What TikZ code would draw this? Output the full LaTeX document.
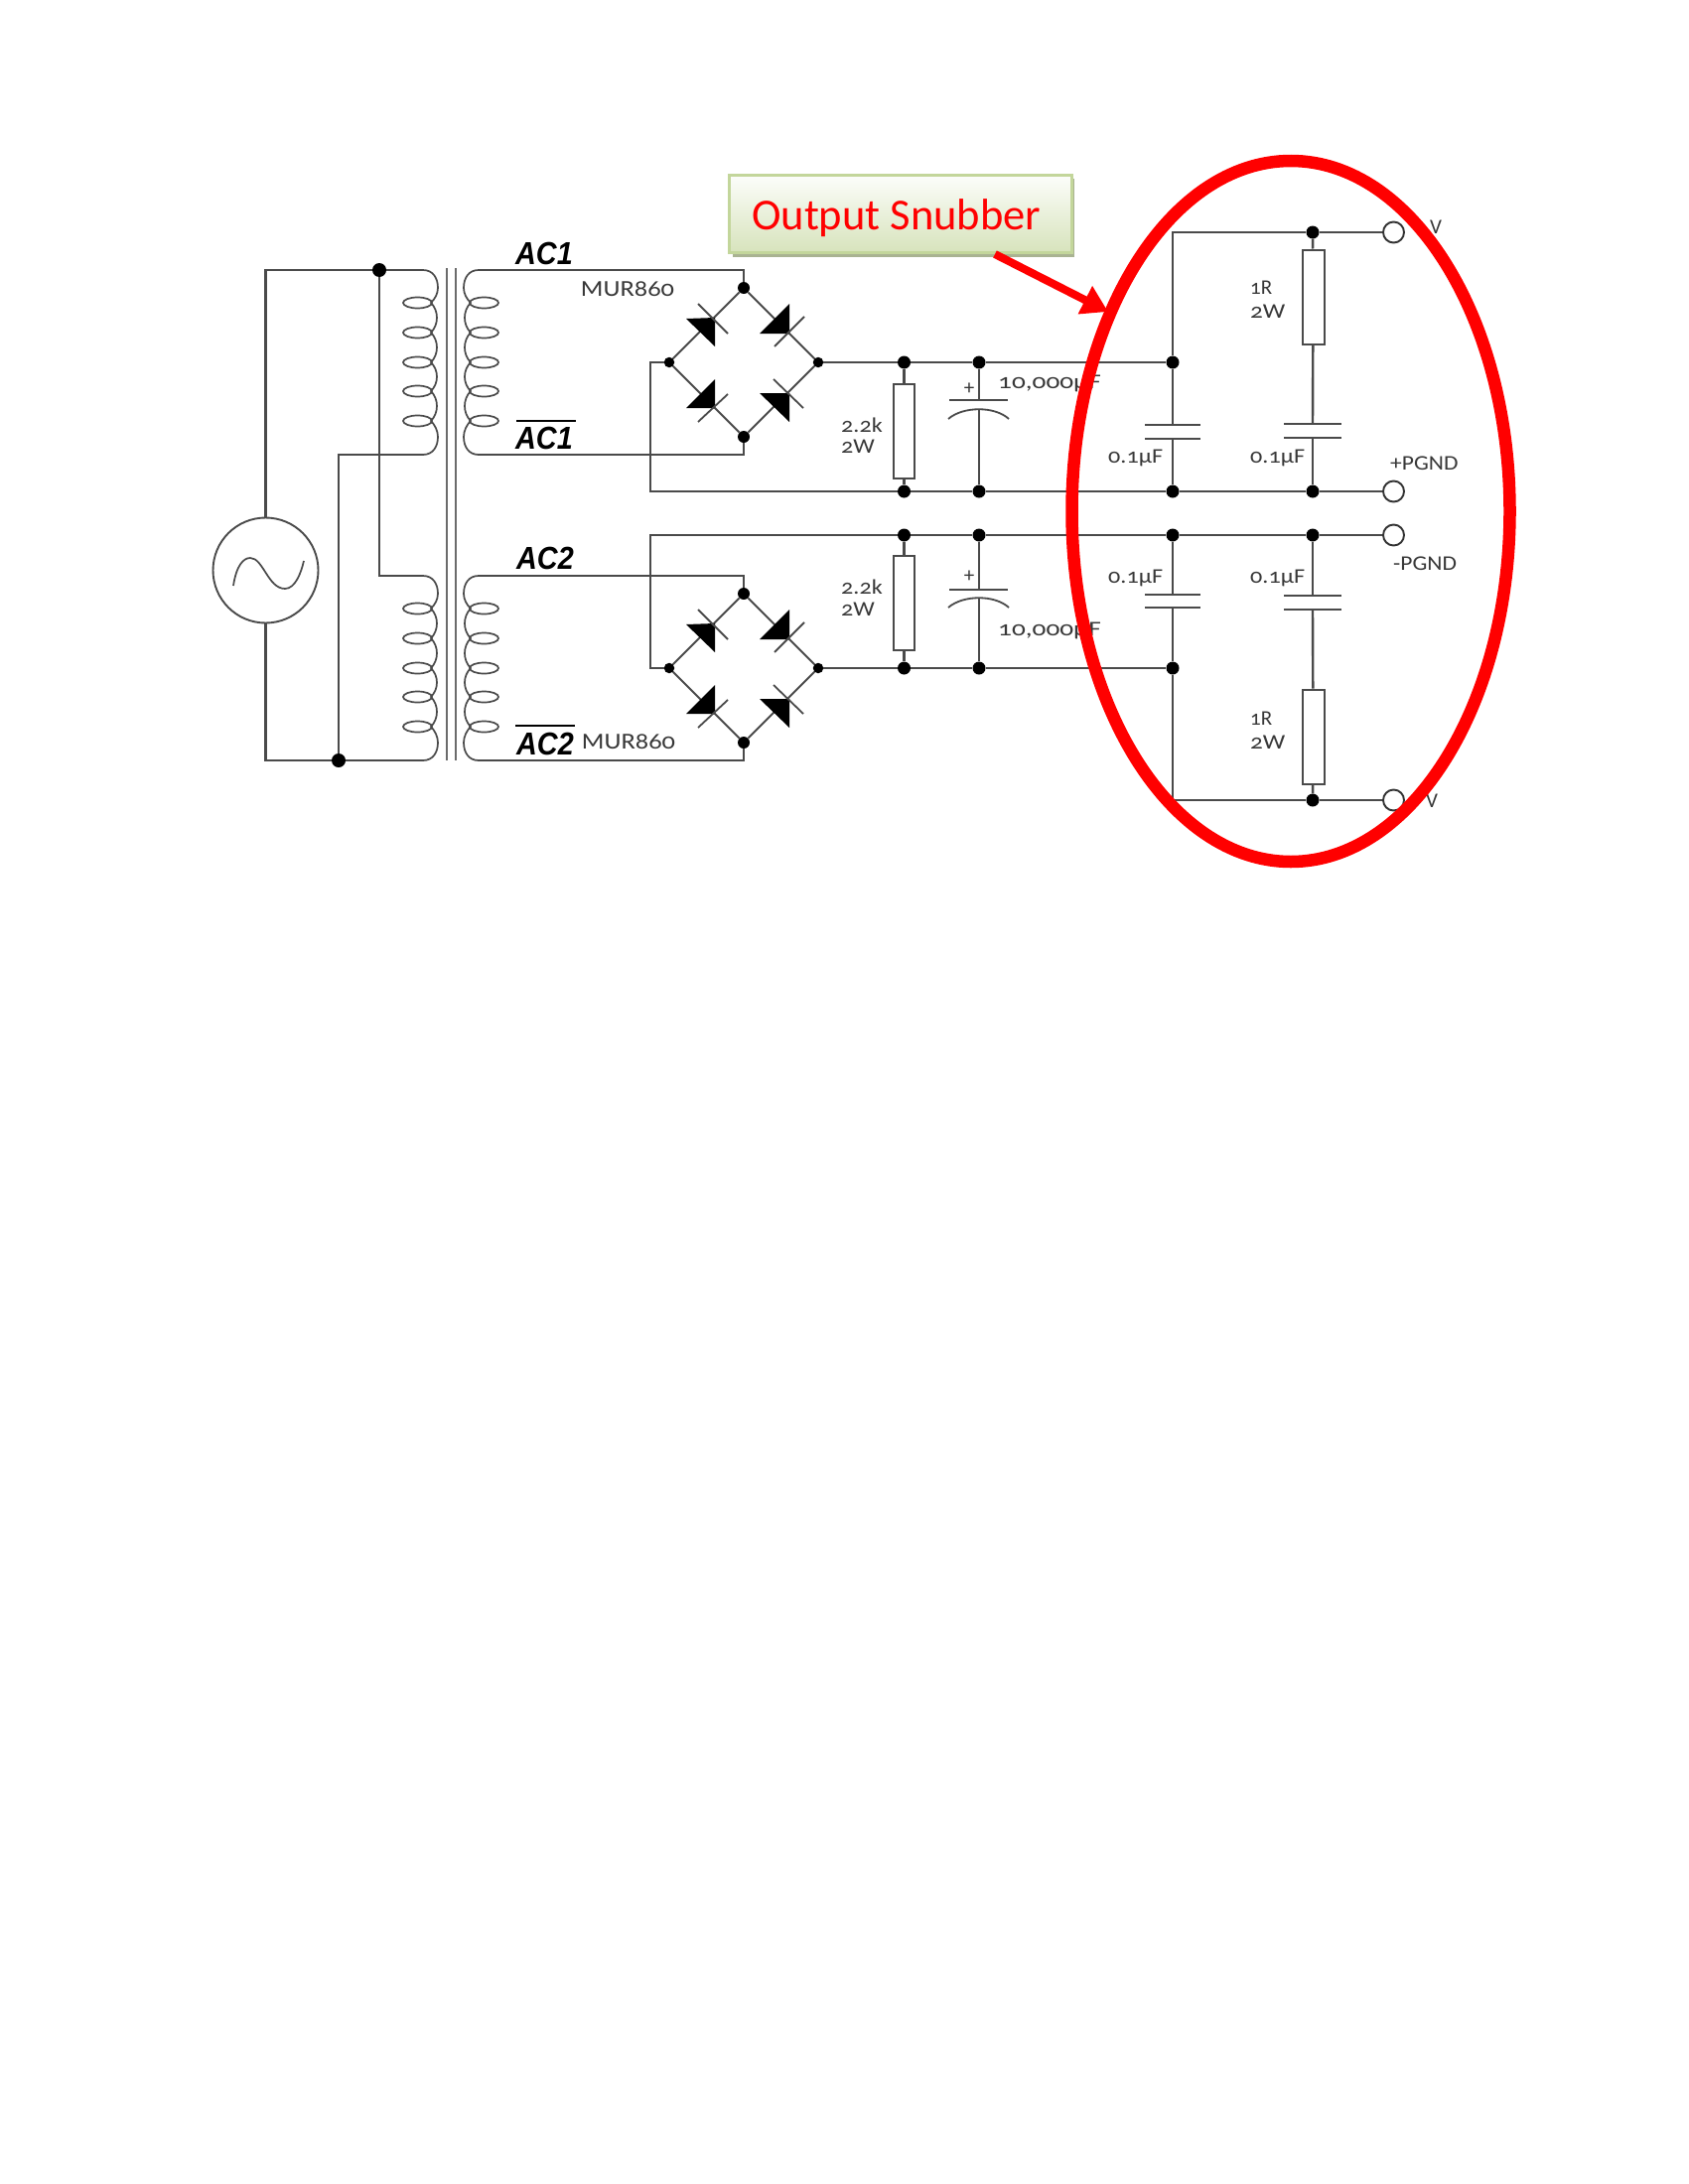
\documentclass[tikz,border=0pt]{standalone}
\usepackage{fontspec}
\setmainfont{Carlito}
\newfontfamily\labfont[Numbers=OldStyle]{Carlito}
\newfontfamily\acfont{Liberation Sans}
\usetikzlibrary{arrows.meta}
\definecolor{wirec}{HTML}{4A4A4A}
\definecolor{thinc}{HTML}{4A4A4A}
\definecolor{redc}{HTML}{FF0000}
\definecolor{boxtop}{HTML}{FCFDFA}
\definecolor{boxbot}{HTML}{D7E3BC}
\definecolor{boxedge}{HTML}{C3D69B}
\definecolor{boxshadow}{HTML}{A9B392}
\newcommand{\wdr}[2]{\scalebox{#1}[1]{#2}}
\tikzset{
  wire/.style={draw=wirec,line width=2.4pt,line join=miter},
  thinw/.style={draw=thinc,line width=1.8pt},
  coilw/.style={draw=thinc,line width=1.7pt},
  dot/.style={circle,fill=black,inner sep=0pt,minimum size=13pt},
  smalldot/.style={circle,fill=black,inner sep=0pt,minimum size=10.5pt},
  term/.style={circle,draw=black!80,line width=1.9pt,fill=white,inner sep=0pt,minimum size=21pt},
  res/.style={rectangle,draw=wirec,line width=2pt,fill=white,inner sep=0pt,minimum width=21pt,minimum height=95pt},
  lab/.style={inner sep=0pt,text=black!78,font=\labfont\fontsize{23}{23}\selectfont},
  labs/.style={inner sep=0pt,text=black!78,font=\labfont\fontsize{21}{21}\selectfont},
  aclab/.style={inner sep=0pt,text=black,font=\acfont\bfseries\itshape\fontsize{32}{32}\selectfont},
  plate/.style={draw=thinc,line width=2.4pt},
}
\newcommand{\coilshape}{%
  \draw[coilw] (0,0) .. controls (10,0) and (15,8) .. (15,18) .. controls (15,24) and (12,29) .. (8,33)
    .. controls (16,41) and (16,55) .. (8,63)
    .. controls (16,71) and (16,85) .. (8,93)
    .. controls (16,101) and (16,114) .. (8,122)
    .. controls (16,130) and (16,144) .. (8,152)
    .. controls (12,156) and (15,162) .. (15,168) .. controls (15,178) and (10,186) .. (0,186);
  \foreach \yy in {33,63,93,122,152}
    \draw[coilw] (-5.5,\yy) ellipse [x radius=14.5pt,y radius=5.5pt];
}
\newcommand{\bridge}[2]{%
  \begin{scope}[shift={(0,#2)}]
    \node[dot,minimum size=12pt] (#1t) at (749,290) {};
    \node[dot,minimum size=12pt] (#1b) at (749,440) {};
    \node[smalldot] (#1l) at (674,365) {};
    \node[smalldot] (#1r) at (824,365) {};
    \draw[thinw] (#1t) -- (#1l) (#1t) -- (#1r) (#1l) -- (#1b) (#1r) -- (#1b);
    \fill[black] (691,321) -- (720,349) -- (720,320) -- cycle;
    \draw[thinw] (703,306) -- (733,336);
    \fill[black] (795,306) -- (765,336) -- (795,336) -- cycle;
    \draw[thinw] (780,349) -- (810,319);
    \fill[black] (720,382) -- (691,411) -- (720,411) -- cycle;
    \draw[thinw] (703,425) -- (733,397);
    \fill[black] (765,396) -- (795,396) -- (795,425) -- cycle;
    \draw[thinw] (779,382) -- (809,411);
  \end{scope}}
\begin{document}
\begin{tikzpicture}[x=1pt,y=-1pt]
\useasboundingbox (0,0) rectangle (1700,2200);
\fill[white] (0,0) rectangle (1700,2200);

% coils
\begin{scope}[shift={(426,272)}]\coilshape\end{scope}
\begin{scope}[shift={(426,580)}]\coilshape\end{scope}
\begin{scope}[shift={(482,272)},xscale=-1]\coilshape\end{scope}
\begin{scope}[shift={(482,580)},xscale=-1]\coilshape\end{scope}
\draw[draw=black!58,line width=2.8pt] (450,270) -- (450,766);
\draw[draw=black!58,line width=2.8pt] (459,270) -- (459,766);

% source
\node[circle,draw=thinc,line width=1.9pt,inner sep=0pt,minimum size=106pt] (src) at (267.5,574.5) {};
\draw[coilw] (235,590) .. controls (238,570) and (245,562) .. (252,562)
  .. controls (265,562) and (270,593) .. (287,593) .. controls (297,593) and (303,578) .. (306,565);

% primary wiring
\coordinate (p1t) at (426,272);
\coordinate (p1b) at (426,458);
\coordinate (p2t) at (426,580);
\coordinate (p2b) at (426,766);
\node[dot,minimum size=14pt] (j1) at (382,272) {};
\node[dot,minimum size=14pt] (j2) at (341,766) {};
\draw[wire] (src.north) |- (j1);
\draw[wire] (j1) -- (p1t);
\draw[wire] (j1) |- (p2t);
\draw[wire] (src.south) |- (j2);
\draw[wire] (j2) -- (p2b);
\draw[wire] (j2) |- (p1b);

% bridges
\bridge{a}{0}
\bridge{c}{308}

% secondary wiring
\coordinate (s1t) at (482,272);
\coordinate (s1b) at (482,458);
\coordinate (s2t) at (482,580);
\coordinate (s2b) at (482,766);
\draw[wire] (s1t) -| (at);
\draw[wire] (s1b) -| (ab);
\draw[wire] (s2t) -| (ct);
\draw[wire] (s2b) -| (cb);

% rail nodes
\foreach \nm/\xx in {r/910.5,k/986,s/1181}{
  \node[dot] (\nm a) at (\xx,365) {};
  \node[dot] (\nm b) at (\xx,495) {};
  \node[dot] (\nm c) at (\xx,539) {};
  \node[dot] (\nm d) at (\xx,673) {};
}
\node[dot] (qa) at (1322,234) {};
\node[dot] (qb) at (1322,495) {};
\node[dot] (qc) at (1322,539) {};
\node[dot] (qd) at (1322,806) {};
\node[term] (t1) at (1403.5,234) {};
\node[term] (t2) at (1403.5,495) {};
\node[term] (t3) at (1403.5,539) {};
\node[term] (t4) at (1403.5,806) {};

% rails
\draw[wire] (ar) -- (ra) -- (ka) -- (sa);
\draw[wire] (cr) -- (rd) -- (kd) -- (sd);
\draw[wire] (al) -| (655,495) -- (rb);
\draw[wire] (rb) -- (kb) -- (sb) -- (qb);
\draw[wire] (cl) -| (655,539) -- (rc);
\draw[wire] (rc) -- (kc) -- (sc) -- (qc);
\draw[wire] (qa) -- (t1);
\draw[wire] (qb) -- (t2);
\draw[wire] (qc) -- (t3);
\draw[wire] (qd) -- (t4);

% resistors
\node[res] (r1) at (910.5,434.5) {};
\node[res] (r2) at (910.5,607) {};
\node[res,minimum width=22pt] (r3) at (1322.5,299) {};
\node[res,minimum width=22pt] (r4) at (1322.5,742) {};
\draw[wire] (ra) -- (r1);
\draw[wire] (r1) -- (rb);
\draw[wire] (rc) -- (r2);
\draw[wire] (r2) -- (rd);

% polarised caps
\coordinate (c1p) at (986,403);
\coordinate (c1a) at (986,412);
\coordinate (c2p) at (986,594);
\coordinate (c2a) at (986,603);
\draw[wire] (ka) -- (c1p);
\draw[wire] (c1a) -- (kb);
\draw[wire] (kc) -- (c2p);
\draw[wire] (c2a) -- (kd);
\draw[plate] (956,403) -- (1015,403);
\draw[plate] (956,594) -- (1015,594);
\draw[thinw] (955,422) .. controls (970,409) and (1002,409) .. (1016,422);
\draw[thinw] (955,612) .. controls (970,599) and (1002,599) .. (1016,612);

% small caps
\coordinate (c3a) at (1181,428);
\coordinate (c3b) at (1181,442);
\coordinate (c4a) at (1322,427);
\coordinate (c4b) at (1322,441);
\coordinate (c5a) at (1181,599);
\coordinate (c5b) at (1181,612);
\coordinate (c6a) at (1322,600);
\coordinate (c6b) at (1322,614);
\coordinate (n1) at (1181,234);
\coordinate (n2) at (1181,806);
\draw[wire] (qa) -- (n1) -- (sa);
\draw[wire] (sa) -- (c3a);
\draw[wire] (c3b) -- (sb);
\draw[wire] (sc) -- (c5a);
\draw[wire] (c5b) -- (sd);
\draw[wire] (sd) -- (n2) -- (qd);
\draw[wire] (qa) -- (r3);
\draw[wire] (r3) -- (c4a);
\draw[wire] (c4b) -- (qb);
\draw[wire] (qc) -- (c6a);
\draw[wire] (c6b) -- (r4);
\draw[wire] (r4) -- (qd);
\foreach \cc in {c3a,c3b,c5a,c5b}
  \draw[plate] ([xshift=-28pt]\cc) -- ([xshift=28pt]\cc);
\foreach \cc in {c4a,c4b,c6a,c6b}
  \draw[plate] ([xshift=-29pt]\cc) -- ([xshift=29pt]\cc);

% labels
\node[aclab] (ac1) at (548,255) {\wdr{.9}{AC1}};
\node[aclab] (ac1b) at (548,441) {\wdr{.9}{AC1}};
\node[aclab] (ac2) at (549,562) {\wdr{.9}{AC2}};
\node[aclab] (ac2b) at (549,749) {\wdr{.9}{AC2}};
\draw[black,line width=2.6pt] (520,424) -- (580,424);
\draw[black,line width=2.6pt] (519,731) -- (579,731);
\node[lab] (m1) at (632,291) {\wdr{1.15}{MUR860}};
\node[lab] (m2) at (633,747) {\wdr{1.15}{MUR860}};
\node[labs] (l22a) at (868,428) {\wdr{1.15}{2.2k}};
\node[labs,anchor=west] (l2wa) at (847,450) {\wdr{1.15}{2W}};
\node[labs] (l22b) at (868,591) {\wdr{1.15}{2.2k}};
\node[labs,anchor=west] (l2wb) at (847,614) {\wdr{1.15}{2W}};
\node[labs] (pl1) at (976,392) {+};
\node[labs] (pl2) at (976,581) {+};
\node[labs,anchor=west] (uf1) at (1005,386) {\wdr{1.3}{10,000µF}};
\node[labs,anchor=west] (uf2) at (1005,635) {\wdr{1.3}{10,000µF}};
\node[labs,anchor=west] (s1) at (1116,461) {\wdr{1.15}{0.1µF}};
\node[labs,anchor=west] (s2) at (1259,461) {\wdr{1.15}{0.1µF}};
\node[labs,anchor=west] (s3) at (1116,582) {\wdr{1.15}{0.1µF}};
\node[labs,anchor=west] (s4) at (1259,582) {\wdr{1.15}{0.1µF}};
\node[labs,anchor=west] (o1) at (1259,290) {1R};
\node[labs,anchor=west] (w1) at (1259,314) {\wdr{1.2}{2W}};
\node[labs,anchor=west] (o2) at (1259,724) {1R};
\node[labs,anchor=west] (w2) at (1259,748) {\wdr{1.2}{2W}};
\node[labs,anchor=west] (v1t) at (1440,229) {V};
\node[labs,anchor=west] (v2t) at (1436,807) {V};
\node[labs,anchor=west] (pg) at (1400,467) {\wdr{1.12}{+PGND}};
\node[labs,anchor=west] (ng) at (1403,568) {\wdr{1.12}{-PGND}};

% callout
\fill[boxshadow] (738,180) rectangle (1082,259);
\node[rectangle,draw=boxedge,line width=2.6pt,top color=boxtop,bottom color=boxbot,
  minimum width=345pt,minimum height=78pt,inner sep=0pt] (callout) at (907,215.5) {};
\node[inner sep=0pt,anchor=base west,text=redc,font=\fontsize{44.5}{44.5}\selectfont] (calltext) at (757,231) {Output Snubber};
\coordinate (arrs) at (1002,256);
\coordinate (arrt) at (1116,314);
\draw[redc,line width=8pt,-{Triangle[length=26pt,width=30pt]}] (arrs) -- (arrt);

% ring
\coordinate (ringc) at (1300,515);
\draw[redc,line width=12.5pt] (ringc) ellipse [x radius=220.5pt,y radius=353pt];
\end{tikzpicture}
\end{document}
